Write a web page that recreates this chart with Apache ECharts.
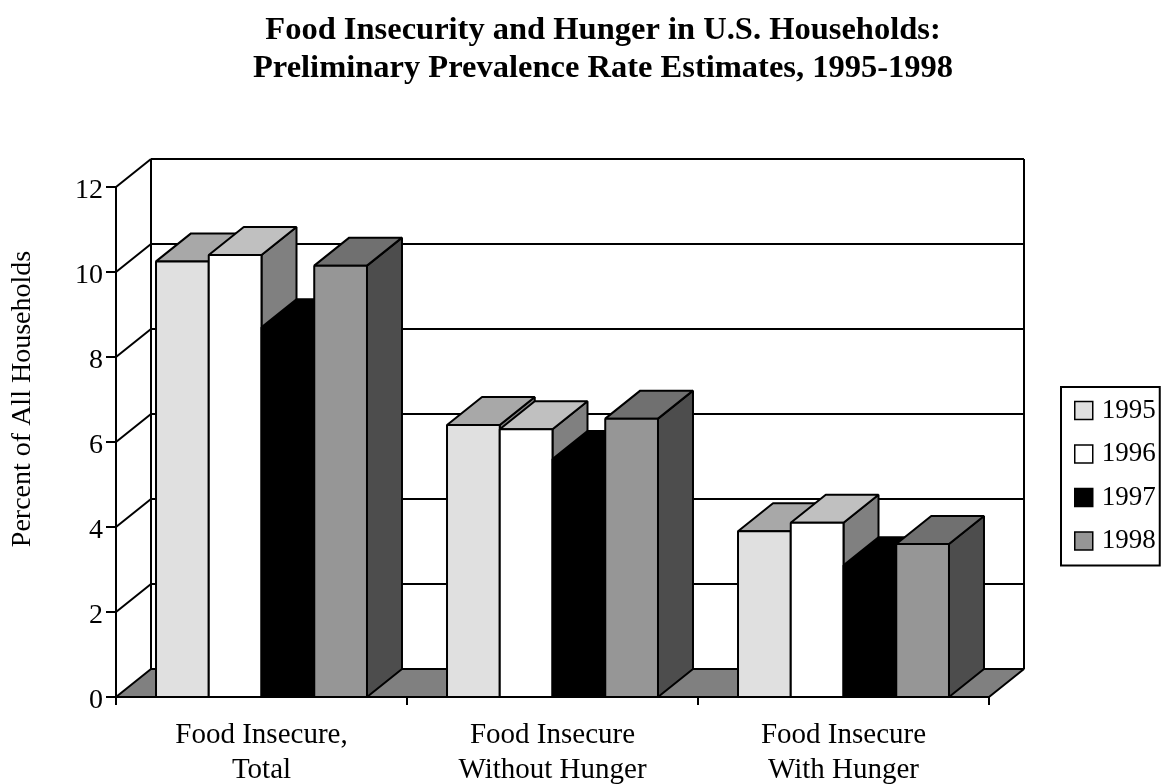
<!DOCTYPE html>
<html>
<head>
<meta charset="utf-8">
<style>html,body{margin:0;padding:0;background:#fff}#c{width:1161px;height:784px}</style>
<script src="https://cdn.jsdelivr.net/npm/echarts@6/dist/echarts.min.js"></script>
</head>
<body>
<div id="c"></div>
<script>
var categories = ['Food Insecure,\nTotal', 'Food Insecure\nWithout Hunger', 'Food Insecure\nWith Hunger'];
var years = ['1995', '1996', '1997', '1998'];
var values1995 = [10.25, 6.4, 3.9];
var values1996 = [10.4, 6.3, 4.1];
var values1997 = [8.7, 5.6, 3.1];
var values1998 = [10.15, 6.55, 3.6];
var yTicks = [0, 2, 4, 6, 8, 10, 12];

var seriesValues = [values1995, values1996, values1997, values1998];
var fronts = ['#e0e0e0', '#ffffff', '#000000', '#969696'];
var tops = ['#a8a8a8', '#c0c0c0', '#000000', '#707070'];
var sides = ['#808080', '#808080', '#000000', '#4d4d4d'];
var FONT = '"Liberation Serif", serif';
var DX = 35, DY = -28, GROUP = 0.725;
var LINE = { stroke: '#000', lineWidth: 2 };

function poly(points, fill) {
  return { type: 'polygon', shape: { points: points }, style: { fill: fill, stroke: '#000', lineWidth: 2, lineJoin: 'bevel' } };
}
function seg(x1, y1, x2, y2) {
  return { type: 'line', shape: { x1: x1, y1: y1, x2: x2, y2: y2 }, style: LINE };
}
function renderWall(params, api) {
  var t = api.value(1);
  var w = api.size([1, 0])[0];
  var p = api.coord([0, t]);
  var x0 = p[0] - w / 2, y = p[1];
  var x1 = api.coord([categories.length - 1, t])[0] + w / 2;
  var kids = [];
  if (t === yTicks[0]) {
    var top = api.coord([0, yTicks[yTicks.length - 1]])[1];
    kids.push(poly([[x0, y], [x1, y], [x1 + DX, y + DY], [x0 + DX, y + DY]], '#808080'));
    kids.push(seg(x0 + DX, y + DY, x0 + DX, top + DY));
    kids.push(seg(x1 + DX, y + DY, x1 + DX, top + DY));
  } else {
    kids.push(seg(x0, y, x0 + DX, y + DY));
    kids.push(seg(x0 + DX, y + DY, x1 + DX, y + DY));
  }
  return { type: 'group', children: kids };
}
function makeBarRenderer(idx) {
  return function (params, api) {
    var c = api.value(0), v = api.value(1);
    var w = api.size([1, 0])[0];
    var top = api.coord([c, v]), base = api.coord([c, 0]);
    var bw = w * GROUP / years.length;
    var l = top[0] - w * GROUP / 2 + idx * bw, r = l + bw;
    var yt = top[1], yb = base[1];
    return { type: 'group', children: [
      poly([[r, yt], [r + DX, yt + DY], [r + DX, yb + DY], [r, yb]], sides[idx]),
      poly([[l, yt], [l + DX, yt + DY], [r + DX, yt + DY], [r, yt]], tops[idx]),
      poly([[l, yt], [r, yt], [r, yb], [l, yb]], fronts[idx])
    ] };
  };
}

var series = [{
  name: 'wall', type: 'custom', z: 1, silent: true, renderItem: renderWall,
  encode: { x: 0, y: 1 },
  data: yTicks.map(function (t) { return [0, t]; })
}];
years.forEach(function (y, i) {
  series.push({
    name: y, type: 'custom', z: 2 + i, renderItem: makeBarRenderer(i),
    itemStyle: { color: fronts[i] }, encode: { x: 0, y: 1 },
    data: seriesValues[i].map(function (v, c) { return [c, v]; })
  });
});

var chart = echarts.init(document.getElementById('c'), null, { renderer: 'canvas' });
chart.setOption({
  backgroundColor: '#fff',
  animation: false,
  title: {
    text: 'Food Insecurity and Hunger in U.S. Households:\nPreliminary Prevalence Rate Estimates, 1995-1998',
    left: 603, top: 11.5, textAlign: 'center', padding: 0,
    textStyle: { fontFamily: FONT, fontWeight: 'bold', fontSize: 32.5, lineHeight: 38, color: '#000' }
  },
  grid: { left: 116, right: 172, top: 187, bottom: 87, containLabel: false, outerBoundsMode: 'none' },
  legend: {
    data: years, orient: 'vertical', left: 1061, top: 387, icon: 'rect',
    itemWidth: 18, itemHeight: 18, itemGap: 16.5,
    padding: [10, 4, 11, 13], backgroundColor: '#fff',
    borderColor: '#000', borderWidth: 2,
    itemStyle: { borderColor: '#000', borderWidth: 1.5 },
    textStyle: { fontFamily: FONT, fontSize: 27, color: '#000', padding: [0, 0, 0, 4] },
    selectedMode: false
  },
  xAxis: {
    type: 'category', data: categories, z: 20,
    axisLine: { onZero: false, lineStyle: { color: '#000', width: 2 } },
    axisTick: { show: true, length: 8, alignWithLabel: false, lineStyle: { color: '#000', width: 2 } },
    axisLabel: { interval: 0, margin: 21, color: '#000', fontFamily: FONT, fontSize: 29, lineHeight: 35 },
    splitLine: { show: false }
  },
  yAxis: {
    type: 'value', min: 0, max: 12, interval: 2, z: 20,
    axisLine: { show: true, lineStyle: { color: '#000', width: 2 } },
    axisTick: { show: true, length: 10, lineStyle: { color: '#000', width: 2 } },
    axisLabel: {
      margin: 13, formatter: '{n|{value}}',
      rich: { n: { padding: [7, 0, 0, 0], color: '#000', fontFamily: FONT, fontSize: 28 } }
    },
    splitLine: { show: false }
  },
  graphic: [{
    type: 'text', x: 23, y: 399, rotation: Math.PI / 2, silent: true,
    style: { text: 'Percent of All Households', fill: '#000', font: '28px ' + FONT, align: 'center', verticalAlign: 'middle' }
  }],
  series: series
});
</script>
</body>
</html>
